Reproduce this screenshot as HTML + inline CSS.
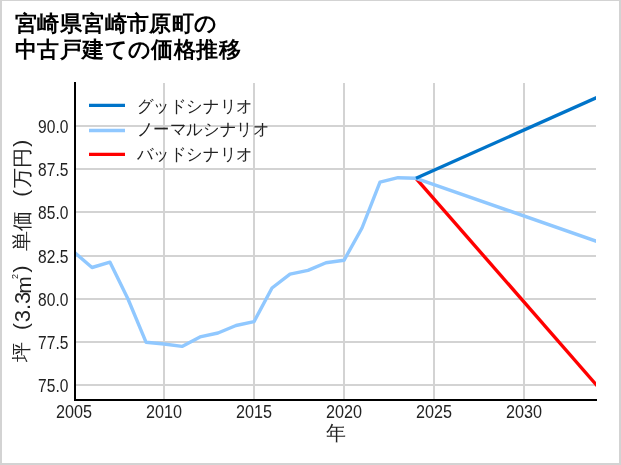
<!DOCTYPE html>
<html lang="ja">
<head>
<meta charset="utf-8">
<style>
html,body{margin:0;padding:0;background:#fff;}
body{width:621px;height:465px;position:relative;overflow:hidden;font-family:"Liberation Sans",sans-serif;}
#frame{position:absolute;left:0;top:0;width:617px;height:462px;border-top:1px solid #d3d3d3;border-left:2px solid #d3d3d3;border-right:2px solid #d3d3d3;border-bottom:2px solid #d3d3d3;}
.title{position:absolute;left:15px;font-weight:bold;font-size:22px;color:#000;white-space:nowrap;line-height:22px;letter-spacing:0.4px;}
svg{position:absolute;left:0;top:0;}
svg text{font-family:"Liberation Sans",sans-serif;}
svg{will-change:transform;}
.title{will-change:transform;}
</style>
</head>
<body>
<div id="frame"></div>
<div class="title" style="top:13px">宮崎県宮崎市原町の</div>
<div class="title" style="top:39px">中古戸建ての価格推移</div>
<svg width="621" height="465" viewBox="0 0 621 465">
  <defs><clipPath id="ax"><rect x="74" y="83" width="522" height="317"/></clipPath></defs>
  <g stroke="#d3d3d3" stroke-width="2" fill="none">
    <line x1="74" y1="126" x2="596" y2="126"/>
    <line x1="74" y1="169" x2="596" y2="169"/>
    <line x1="74" y1="212" x2="596" y2="212"/>
    <line x1="74" y1="256" x2="596" y2="256"/>
    <line x1="74" y1="299" x2="596" y2="299"/>
    <line x1="74" y1="342" x2="596" y2="342"/>
    <line x1="74" y1="385" x2="596" y2="385"/>
    <line x1="164" y1="83" x2="164" y2="400"/>
    <line x1="254" y1="83" x2="254" y2="400"/>
    <line x1="344" y1="83" x2="344" y2="400"/>
    <line x1="434" y1="83" x2="434" y2="400"/>
    <line x1="524" y1="83" x2="524" y2="400"/>
  </g>
  <g fill="none" stroke-width="3.4" stroke-linejoin="round" clip-path="url(#ax)">
    <polyline stroke="#ff0000" points="416,178.3 600,389.08"/>
    <polyline stroke="#90c8ff" points="70,248.56 92,267.5 110,262.2 128,299 146,342.2 164,344 182,346.4 200,336.9 218,333 236,325.5 254,321.7 272,288 290,274.1 308,270.4 326,262.7 344,260.3 362,228 380,182.1 398,177.7 416,178.3 600,242.5"/>
    <polyline stroke="#0074c9" points="416,178.3 600,96.01"/>
  </g>
  <g stroke="#000" stroke-width="2" fill="none">
    <line x1="75" y1="82" x2="75" y2="401"/>
    <line x1="74" y1="400" x2="597" y2="400"/>
  </g>
  <g stroke-width="3.3">
    <line x1="89" y1="105.4" x2="125" y2="105.4" stroke="#0074c9"/>
    <line x1="89" y1="130.5" x2="125" y2="130.5" stroke="#90c8ff"/>
    <line x1="89" y1="154.4" x2="125" y2="154.4" stroke="#ff0000"/>
  </g>
  <g font-size="17" fill="#222">
    <text transform="translate(136.5,112) scale(0.96,1)">グッドシナリオ</text>
    <text transform="translate(136.5,134.9) scale(0.96,1)">ノーマルシナリオ</text>
    <text transform="translate(136.5,160.3) scale(0.96,1)">バッドシナリオ</text>
  </g>
  <g font-size="18" fill="#222" text-anchor="end" transform="translate(68.4,0) scale(0.865,1)">
    <text x="0" y="132.8">90.0</text>
    <text x="0" y="175.8">87.5</text>
    <text x="0" y="218.8">85.0</text>
    <text x="0" y="262.8">82.5</text>
    <text x="0" y="305.8">80.0</text>
    <text x="0" y="348.8">77.5</text>
    <text x="0" y="391.8">75.0</text>
  </g>
  <g font-size="18" fill="#222">
  <text transform="translate(74,418) scale(0.9,1)" text-anchor="middle">2005</text>
  <text transform="translate(164,418) scale(0.9,1)" text-anchor="middle">2010</text>
  <text transform="translate(254,418) scale(0.9,1)" text-anchor="middle">2015</text>
  <text transform="translate(344,418) scale(0.9,1)" text-anchor="middle">2020</text>
  <text transform="translate(434,418) scale(0.9,1)" text-anchor="middle">2025</text>
  <text transform="translate(524,418) scale(0.9,1)" text-anchor="middle">2030</text>
  </g>
  <text x="336" y="439.6" font-size="20" fill="#222" text-anchor="middle">年</text>
  <g fill="#222">
  <text transform="translate(28.35,352.00) rotate(-90)" font-size="19.5" text-anchor="middle">坪</text>
  <text transform="translate(27.50,326.50) rotate(-90)" font-size="21" text-anchor="middle">(</text>
  <text transform="translate(30.20,306.95) rotate(-90)" font-size="22" text-anchor="middle">3.3</text>
  <text transform="translate(31.20,285.00) rotate(-90)" font-size="21" text-anchor="middle">m</text>
  <text transform="translate(18.40,276.40) rotate(-90)" font-size="9" text-anchor="middle">2</text>
  <text transform="translate(27.50,269.00) rotate(-90)" font-size="21" text-anchor="middle">)</text>
  <text transform="translate(28.40,240.90) rotate(-90)" font-size="19.5" text-anchor="middle">単</text>
  <text transform="translate(28.50,220.60) rotate(-90)" font-size="19.5" text-anchor="middle">価</text>
  <text transform="translate(27.50,193.25) rotate(-90)" font-size="21" text-anchor="middle">(</text>
  <text transform="translate(28.65,178.05) rotate(-90)" font-size="19.5" text-anchor="middle">万</text>
  <text transform="translate(29.20,158.10) rotate(-90)" font-size="19.5" text-anchor="middle">円</text>
  <text transform="translate(27.50,143.25) rotate(-90)" font-size="21" text-anchor="middle">)</text>
  </g>
</svg>
</body>
</html>
